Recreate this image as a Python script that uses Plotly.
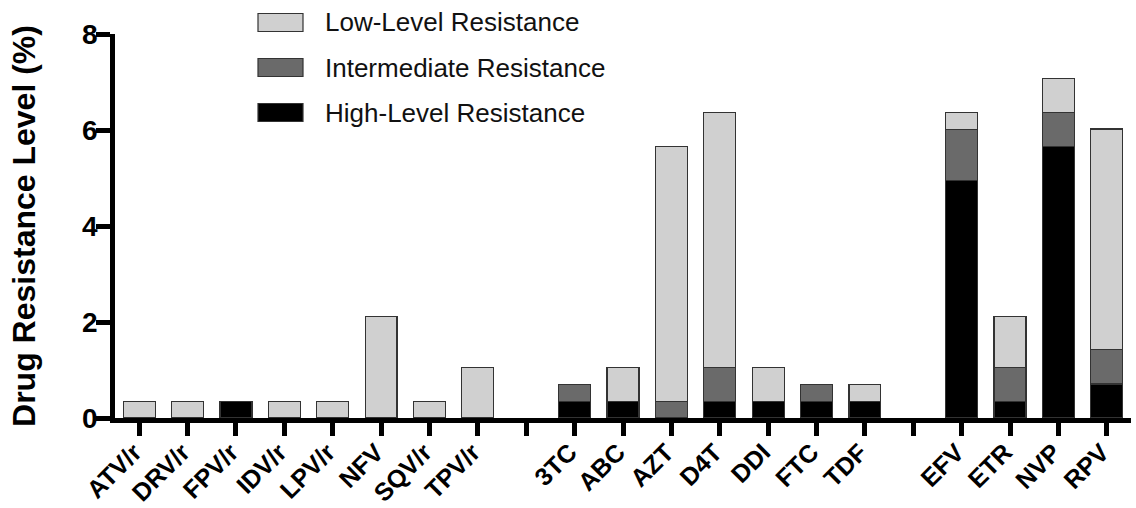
import plotly.graph_objects as go

# ---- data ----
pi_names = ["ATV/r", "DRV/r", "FPV/r", "IDV/r", "LPV/r", "NFV", "SQV/r", "TPV/r"]
pi_high = [0, 0, 0.35, 0, 0, 0, 0, 0]
pi_inter = [0, 0, 0, 0, 0, 0, 0, 0]
pi_low = [0.35, 0.35, 0, 0.35, 0.35, 2.12, 0.35, 1.06]

nrti_names = ["3TC", "ABC", "AZT", "D4T", "DDI", "FTC", "TDF"]
nrti_high = [0.35, 0.35, 0, 0.35, 0.35, 0.35, 0.35]
nrti_inter = [0.35, 0, 0.35, 0.71, 0, 0.35, 0]
nrti_low = [0, 0.71, 5.30, 5.30, 0.71, 0, 0.35]

nnrti_names = ["EFV", "ETR", "NVP", "RPV"]
nnrti_high = [4.95, 0.35, 5.65, 0.71]
nnrti_inter = [1.06, 0.71, 0.71, 0.71]
nnrti_low = [0.35, 1.06, 0.71, 4.60]

series_names = ["High-Level Resistance", "Intermediate Resistance", "Low-Level Resistance"]
series_colors = ["#000000", "#6a6a6a", "#d0d0d0"]
legend_order = ["Low-Level Resistance", "Intermediate Resistance", "High-Level Resistance"]
y_ticks = [0, 2, 4, 6, 8]
y_title = "Drug Resistance Level (%)"

groups = [
    (pi_names, pi_high, pi_inter, pi_low),
    (nrti_names, nrti_high, nrti_inter, nrti_low),
    (nnrti_names, nnrti_high, nnrti_inter, nnrti_low),
]

# positions with one empty slot between groups
xs, high, inter, low = [], [], [], []
tickvals, ticktext = [], []
pos = 0
for gi, (names, h, m, l) in enumerate(groups):
    for k, n in enumerate(names):
        xs.append(pos)
        high.append(h[k]); inter.append(m[k]); low.append(l[k])
        tickvals.append(pos); ticktext.append(n)
        pos += 1
    if gi < len(groups) - 1:
        tickvals.append(pos); ticktext.append("")
        pos += 1

font_family = "Liberation Sans, Arial, sans-serif"
OUTLINE = "#333333"

fig = go.Figure()
for name, vals, col in zip(series_names, [high, inter, low], series_colors):
    px_ = [x for x, v in zip(xs, vals) if v != 0]
    py_ = [v for v in vals if v != 0]
    fig.add_trace(go.Bar(
        x=px_, y=py_, name=name, showlegend=False,
        marker=dict(color=col, line=dict(color=OUTLINE, width=1.2)),
        width=0.66,
    ))

# ---- layout geometry (pixels) ----
W, H = 1136, 508
ML, MR, MT, MB = 115, 5, 34, 90
PW, PH = W - ML - MR, H - MT - MB

def paper_x(p):
    return (p - ML) / PW

def paper_y(q):
    return (H - MB - q) / PH

# custom legend (swatches + labels)
leg_sw_x0, leg_sw_x1 = 258, 303
leg_txt_x = 323
leg_row0, leg_row_step, leg_sw_h = 22.5, 45, 18
color_of = dict(zip(series_names, series_colors))
shapes, annotations = [], []
for i, name in enumerate(legend_order):
    cy = leg_row0 + i * leg_row_step
    shapes.append(dict(
        type="rect", xref="paper", yref="paper",
        x0=paper_x(leg_sw_x0), x1=paper_x(leg_sw_x1),
        y0=paper_y(cy + leg_sw_h / 2), y1=paper_y(cy - leg_sw_h / 2),
        fillcolor=color_of[name], line=dict(color=OUTLINE, width=1.2),
    ))
    annotations.append(dict(
        xref="paper", yref="paper", x=paper_x(leg_txt_x), y=paper_y(cy),
        xanchor="left", yanchor="middle", showarrow=False, text=name,
        font=dict(size=26, family=font_family, color="#111111"),
    ))

fig.update_layout(
    width=W, height=H,
    barmode="stack",
    plot_bgcolor="white", paper_bgcolor="white",
    margin=dict(l=ML, r=MR, t=MT, b=MB, autoexpand=False),
    font=dict(family=font_family, color="black"),
    showlegend=False,
    shapes=shapes, annotations=annotations,
)
fig.update_xaxes(
    range=[-0.5, pos - 0.5],
    tickmode="array", tickvals=tickvals, ticktext=ticktext,
    tickangle=-45, automargin=False, ticklabelstandoff=-8, ticklabelshift=-5,
    tickfont=dict(size=25, family=font_family, weight="bold"),
    showline=True, linewidth=4.5, linecolor="black",
    ticks="outside", ticklen=13, tickwidth=4.5, tickcolor="black",
    showgrid=False, zeroline=False,
)
fig.update_yaxes(
    range=[0, 8], automargin=False, ticklabelstandoff=-7,
    tickmode="array", tickvals=y_ticks,
    tickfont=dict(size=28, family=font_family, weight="bold"),
    showline=True, linewidth=4.5, linecolor="black",
    ticks="outside", ticklen=14, tickwidth=4.5, tickcolor="black",
    showgrid=False, zeroline=False,
    title=dict(text=y_title, standoff=38,
               font=dict(size=32, family=font_family, weight="bold")),
)

fig.write_html("out.html")
